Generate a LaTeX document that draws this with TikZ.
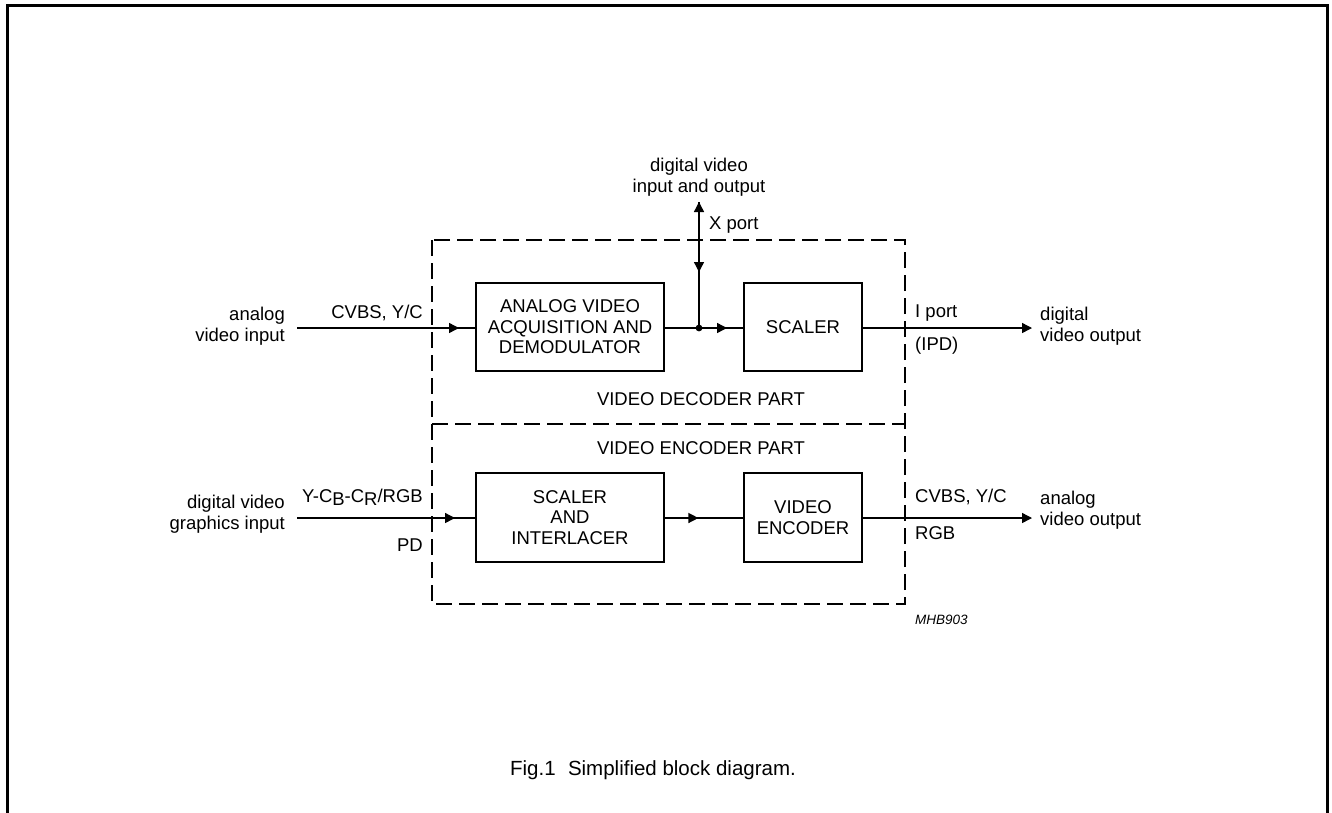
\documentclass[tikz,border=0pt]{standalone}
\usepackage{fontspec}
\setmainfont{Liberation Sans}
\usetikzlibrary{arrows.meta,decorations.markings}
\tikzset{
  blk/.style={draw, line width=2.8pt, inner sep=0pt, align=center, font=\fs},
  txt/.style={inner sep=0pt, font=\fs},
  sig/.style={line width=1.4pt},
  tip/.style={-{Triangle[length=10pt,width=10pt]}},
  midarrow/.style={postaction={decorate}, decoration={markings, mark=at position #1 with {\arrow{Triangle[length=10pt,width=10pt]}}}},
  part/.style={line width=2.6pt, dash pattern=on 16pt off 7pt},
}
\newcommand{\fs}{\fontsize{18.5pt}{20.5pt}\selectfont}
\begin{document}
\begin{tikzpicture}[x=1pt,y=-1pt]
\useasboundingbox (0,0) rectangle (1332,812);
% outer frame
\draw[line width=2.2pt] (7.5,815) -- (7.5,5.5) -- (1327.5,5.5) -- (1327.5,815);

% dashed part boxes
\draw[part] (432,240) rectangle (905,604);
\draw[part] (432,424) -- (905,424);

% blocks
\node[blk, minimum width=188pt, minimum height=88pt] (avad) at (570,327) {ANALOG VIDEO\\ACQUISITION AND\\DEMODULATOR};
\node[blk, minimum width=118pt, minimum height=88pt] (scal) at (803,327) {SCALER};
\node[blk, minimum width=188pt, minimum height=89pt] (sint) at (570,517.5) {SCALER\\AND\\INTERLACER};
\node[blk, minimum width=118pt, minimum height=89pt] (venc) at (803,517.5) {VIDEO\\ENCODER};

% coordinates
\coordinate (ain) at (297,328);
\coordinate (din) at (297,518);
\coordinate (junc) at (699,328);
\coordinate (xtop) at (699,202);
\coordinate (dout) at (1032,328);
\coordinate (aout) at (1032,518);

% connectors
\draw[sig, midarrow=162pt] (ain) -- (avad.west |- ain);
\draw[sig] (avad.east |- junc) -- (junc);
\draw[sig, midarrow=28pt] (junc) -- (scal.west |- junc);
\fill (junc) circle (3.4pt);
\draw[sig, tip] (junc) -- (xtop);
\draw[sig, midarrow=70pt] (xtop) -- (junc);
\draw[sig, tip] (scal.east |- dout) -- (dout);

\draw[sig, midarrow=158pt] (din) -- (sint.west |- din);
\draw[sig, midarrow=33pt] (sint.east |- din) -- (venc.west |- din);
\draw[sig, tip] (venc.east |- aout) -- (aout);

% labels
\node[txt, align=center] (xlab) at (699,177) {digital video\\input and output};
\node[txt, anchor=west] (xport) at (709,225) {X port};
\node[txt, align=right, anchor=east] (ailab) at (285,326) {analog\\video input};
\node[txt, anchor=east] (cvbsin) at (423,313) {CVBS, Y/C};
\node[txt, align=right, anchor=east] (dilab) at (285,514) {digital video\\graphics input};
\node[txt, anchor=east] (ycbcr) at (423,497) {Y-C\raisebox{-0.35ex}{B}-C\raisebox{-0.35ex}{R}/RGB};
\node[txt, anchor=east] (pd) at (423,545) {PD};
\node[txt, anchor=west] (iport) at (915,313) {I port};
\node[txt, anchor=west] (ipd) at (915,346) {(IPD)};
\node[txt, align=left, anchor=west] (dolab) at (1040,326) {digital\\video output};
\node[txt, anchor=west] (cvbsout) at (915,497) {CVBS, Y/C};
\node[txt, anchor=west] (rgb) at (915,533) {RGB};
\node[txt, align=left, anchor=west] (aolab) at (1040,510) {analog\\video output};
\node[txt] (dec) at (701,399) {VIDEO DECODER PART};
\node[txt] (enc) at (701,448) {VIDEO ENCODER PART};
\node[inner sep=0pt, anchor=west, font=\fontsize{13.5pt}{15pt}\selectfont\itshape] (code) at (915,620) {MHB903};
\node[inner sep=0pt, font=\fontsize{20.5pt}{24pt}\selectfont] (cap) at (653,770) {Fig.1\hspace{0.6em}Simplified block diagram.};
\end{tikzpicture}
\end{document}
